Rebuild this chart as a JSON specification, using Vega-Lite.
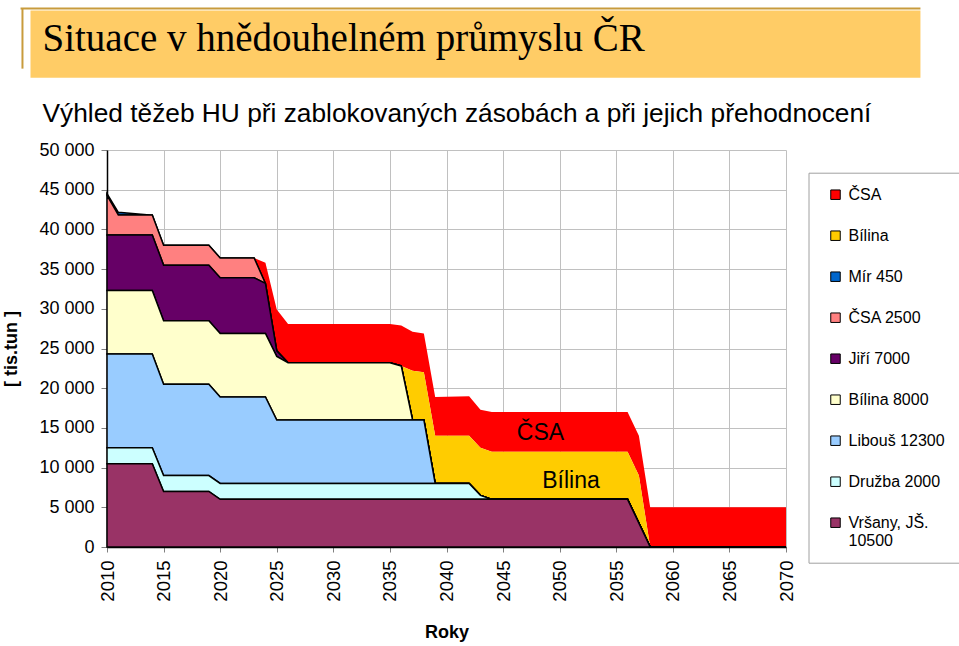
{
  "$schema": "https://vega.github.io/schema/vega-lite/v6.json",
  "width": 679,
  "height": 397,
  "padding": {"left": 2, "top": 7, "right": 0, "bottom": 0},
  "autosize": {"type": "pad"},
  "background": "white",
  "config": {
    "font": "Liberation Sans",
    "view": {"stroke": null},
    "locale": {"number": {"decimal": ",", "thousands": " ", "grouping": [3], "currency": ["", ""]}}
  },
  "title": {
    "text": "Situace v hnědouhelném průmyslu ČR",
    "subtitle": "Výhled těžeb HU při zablokovaných zásobách a při jejich přehodnocení",
    "anchor": "start",
    "frame": "group",
    "dx": -64.5,
    "offset": -120,
    "font": "Liberation Serif",
    "fontSize": 39,
    "fontWeight": "normal",
    "color": "black",
    "subtitleFont": "Liberation Sans",
    "subtitleFontSize": 26.3,
    "subtitleColor": "black",
    "subtitlePadding": 42.5
  },
  "layer": [
    {
      "data": {"values": [
        {"year":2010,"series":"ČSA","value":0},{"year":2010,"series":"Bílina","value":0},{"year":2010,"series":"Mír 450","value":200},{"year":2010,"series":"ČSA 2500","value":5000},{"year":2010,"series":"Jiří 7000","value":7000},{"year":2010,"series":"Bílina 8000","value":8000},{"year":2010,"series":"Libouš 12300","value":11800},{"year":2010,"series":"Družba 2000","value":2000},{"year":2010,"series":"Vršany, JŠ. 10500","value":10500},
        {"year":2011,"series":"ČSA","value":0},{"year":2011,"series":"Bílina","value":0},{"year":2011,"series":"Mír 450","value":350},{"year":2011,"series":"ČSA 2500","value":2500},{"year":2011,"series":"Jiří 7000","value":7000},{"year":2011,"series":"Bílina 8000","value":8000},{"year":2011,"series":"Libouš 12300","value":11800},{"year":2011,"series":"Družba 2000","value":2000},{"year":2011,"series":"Vršany, JŠ. 10500","value":10500},
        {"year":2012,"series":"ČSA","value":0},{"year":2012,"series":"Bílina","value":0},{"year":2012,"series":"Mír 450","value":230},{"year":2012,"series":"ČSA 2500","value":2500},{"year":2012,"series":"Jiří 7000","value":7000},{"year":2012,"series":"Bílina 8000","value":8000},{"year":2012,"series":"Libouš 12300","value":11800},{"year":2012,"series":"Družba 2000","value":2000},{"year":2012,"series":"Vršany, JŠ. 10500","value":10500},
        {"year":2013,"series":"ČSA","value":0},{"year":2013,"series":"Bílina","value":0},{"year":2013,"series":"Mír 450","value":120},{"year":2013,"series":"ČSA 2500","value":2500},{"year":2013,"series":"Jiří 7000","value":7000},{"year":2013,"series":"Bílina 8000","value":8000},{"year":2013,"series":"Libouš 12300","value":11800},{"year":2013,"series":"Družba 2000","value":2000},{"year":2013,"series":"Vršany, JŠ. 10500","value":10500},
        {"year":2014,"series":"ČSA","value":0},{"year":2014,"series":"Bílina","value":0},{"year":2014,"series":"Mír 450","value":0},{"year":2014,"series":"ČSA 2500","value":2500},{"year":2014,"series":"Jiří 7000","value":7000},{"year":2014,"series":"Bílina 8000","value":8000},{"year":2014,"series":"Libouš 12300","value":11800},{"year":2014,"series":"Družba 2000","value":2000},{"year":2014,"series":"Vršany, JŠ. 10500","value":10500},
        {"year":2015,"series":"ČSA","value":0},{"year":2015,"series":"Bílina","value":0},{"year":2015,"series":"Mír 450","value":0},{"year":2015,"series":"ČSA 2500","value":2500},{"year":2015,"series":"Jiří 7000","value":7000},{"year":2015,"series":"Bílina 8000","value":8000},{"year":2015,"series":"Libouš 12300","value":11500},{"year":2015,"series":"Družba 2000","value":2000},{"year":2015,"series":"Vršany, JŠ. 10500","value":7000},
        {"year":2019,"series":"ČSA","value":0},{"year":2019,"series":"Bílina","value":0},{"year":2019,"series":"Mír 450","value":0},{"year":2019,"series":"ČSA 2500","value":2500},{"year":2019,"series":"Jiří 7000","value":7000},{"year":2019,"series":"Bílina 8000","value":8000},{"year":2019,"series":"Libouš 12300","value":11500},{"year":2019,"series":"Družba 2000","value":2000},{"year":2019,"series":"Vršany, JŠ. 10500","value":7000},
        {"year":2020,"series":"ČSA","value":0},{"year":2020,"series":"Bílina","value":0},{"year":2020,"series":"Mír 450","value":0},{"year":2020,"series":"ČSA 2500","value":2500},{"year":2020,"series":"Jiří 7000","value":7000},{"year":2020,"series":"Bílina 8000","value":8000},{"year":2020,"series":"Libouš 12300","value":10900},{"year":2020,"series":"Družba 2000","value":2000},{"year":2020,"series":"Vršany, JŠ. 10500","value":6000},
        {"year":2023,"series":"ČSA","value":0},{"year":2023,"series":"Bílina","value":0},{"year":2023,"series":"Mír 450","value":0},{"year":2023,"series":"ČSA 2500","value":2500},{"year":2023,"series":"Jiří 7000","value":7000},{"year":2023,"series":"Bílina 8000","value":8000},{"year":2023,"series":"Libouš 12300","value":10900},{"year":2023,"series":"Družba 2000","value":2000},{"year":2023,"series":"Vršany, JŠ. 10500","value":6000},
        {"year":2024,"series":"ČSA","value":2600},{"year":2024,"series":"Bílina","value":0},{"year":2024,"series":"Mír 450","value":0},{"year":2024,"series":"ČSA 2500","value":0},{"year":2024,"series":"Jiří 7000","value":6300},{"year":2024,"series":"Bílina 8000","value":8000},{"year":2024,"series":"Libouš 12300","value":10900},{"year":2024,"series":"Družba 2000","value":2000},{"year":2024,"series":"Vršany, JŠ. 10500","value":6000},
        {"year":2025,"series":"ČSA","value":5200},{"year":2025,"series":"Bílina","value":0},{"year":2025,"series":"Mír 450","value":0},{"year":2025,"series":"ČSA 2500","value":0},{"year":2025,"series":"Jiří 7000","value":700},{"year":2025,"series":"Bílina 8000","value":8000},{"year":2025,"series":"Libouš 12300","value":8000},{"year":2025,"series":"Družba 2000","value":2000},{"year":2025,"series":"Vršany, JŠ. 10500","value":6000},
        {"year":2026,"series":"ČSA","value":4900},{"year":2026,"series":"Bílina","value":0},{"year":2026,"series":"Mír 450","value":0},{"year":2026,"series":"ČSA 2500","value":0},{"year":2026,"series":"Jiří 7000","value":0},{"year":2026,"series":"Bílina 8000","value":7200},{"year":2026,"series":"Libouš 12300","value":8000},{"year":2026,"series":"Družba 2000","value":2000},{"year":2026,"series":"Vršany, JŠ. 10500","value":6000},
        {"year":2035,"series":"ČSA","value":4900},{"year":2035,"series":"Bílina","value":0},{"year":2035,"series":"Mír 450","value":0},{"year":2035,"series":"ČSA 2500","value":0},{"year":2035,"series":"Jiří 7000","value":0},{"year":2035,"series":"Bílina 8000","value":7200},{"year":2035,"series":"Libouš 12300","value":8000},{"year":2035,"series":"Družba 2000","value":2000},{"year":2035,"series":"Vršany, JŠ. 10500","value":6000},
        {"year":2036,"series":"ČSA","value":5100},{"year":2036,"series":"Bílina","value":0},{"year":2036,"series":"Mír 450","value":0},{"year":2036,"series":"ČSA 2500","value":0},{"year":2036,"series":"Jiří 7000","value":0},{"year":2036,"series":"Bílina 8000","value":6800},{"year":2036,"series":"Libouš 12300","value":8000},{"year":2036,"series":"Družba 2000","value":2000},{"year":2036,"series":"Vršany, JŠ. 10500","value":6000},
        {"year":2037,"series":"ČSA","value":4900},{"year":2037,"series":"Bílina","value":6200},{"year":2037,"series":"Mír 450","value":0},{"year":2037,"series":"ČSA 2500","value":0},{"year":2037,"series":"Jiří 7000","value":0},{"year":2037,"series":"Bílina 8000","value":0},{"year":2037,"series":"Libouš 12300","value":8000},{"year":2037,"series":"Družba 2000","value":2000},{"year":2037,"series":"Vršany, JŠ. 10500","value":6000},
        {"year":2038,"series":"ČSA","value":4900},{"year":2038,"series":"Bílina","value":6000},{"year":2038,"series":"Mír 450","value":0},{"year":2038,"series":"ČSA 2500","value":0},{"year":2038,"series":"Jiří 7000","value":0},{"year":2038,"series":"Bílina 8000","value":0},{"year":2038,"series":"Libouš 12300","value":8000},{"year":2038,"series":"Družba 2000","value":2000},{"year":2038,"series":"Vršany, JŠ. 10500","value":6000},
        {"year":2039,"series":"ČSA","value":4900},{"year":2039,"series":"Bílina","value":6000},{"year":2039,"series":"Mír 450","value":0},{"year":2039,"series":"ČSA 2500","value":0},{"year":2039,"series":"Jiří 7000","value":0},{"year":2039,"series":"Bílina 8000","value":0},{"year":2039,"series":"Libouš 12300","value":0},{"year":2039,"series":"Družba 2000","value":2000},{"year":2039,"series":"Vršany, JŠ. 10500","value":6000},
        {"year":2042,"series":"ČSA","value":5000},{"year":2042,"series":"Bílina","value":6000},{"year":2042,"series":"Mír 450","value":0},{"year":2042,"series":"ČSA 2500","value":0},{"year":2042,"series":"Jiří 7000","value":0},{"year":2042,"series":"Bílina 8000","value":0},{"year":2042,"series":"Libouš 12300","value":0},{"year":2042,"series":"Družba 2000","value":2000},{"year":2042,"series":"Vršany, JŠ. 10500","value":6000},
        {"year":2043,"series":"ČSA","value":4800},{"year":2043,"series":"Bílina","value":6000},{"year":2043,"series":"Mír 450","value":0},{"year":2043,"series":"ČSA 2500","value":0},{"year":2043,"series":"Jiří 7000","value":0},{"year":2043,"series":"Bílina 8000","value":0},{"year":2043,"series":"Libouš 12300","value":0},{"year":2043,"series":"Družba 2000","value":500},{"year":2043,"series":"Vršany, JŠ. 10500","value":6000},
        {"year":2044,"series":"ČSA","value":5000},{"year":2044,"series":"Bílina","value":6000},{"year":2044,"series":"Mír 450","value":0},{"year":2044,"series":"ČSA 2500","value":0},{"year":2044,"series":"Jiří 7000","value":0},{"year":2044,"series":"Bílina 8000","value":0},{"year":2044,"series":"Libouš 12300","value":0},{"year":2044,"series":"Družba 2000","value":0},{"year":2044,"series":"Vršany, JŠ. 10500","value":6000},
        {"year":2056,"series":"ČSA","value":5000},{"year":2056,"series":"Bílina","value":6000},{"year":2056,"series":"Mír 450","value":0},{"year":2056,"series":"ČSA 2500","value":0},{"year":2056,"series":"Jiří 7000","value":0},{"year":2056,"series":"Bílina 8000","value":0},{"year":2056,"series":"Libouš 12300","value":0},{"year":2056,"series":"Družba 2000","value":0},{"year":2056,"series":"Vršany, JŠ. 10500","value":6000},
        {"year":2057,"series":"ČSA","value":5000},{"year":2057,"series":"Bílina","value":6000},{"year":2057,"series":"Mír 450","value":0},{"year":2057,"series":"ČSA 2500","value":0},{"year":2057,"series":"Jiří 7000","value":0},{"year":2057,"series":"Bílina 8000","value":0},{"year":2057,"series":"Libouš 12300","value":0},{"year":2057,"series":"Družba 2000","value":0},{"year":2057,"series":"Vršany, JŠ. 10500","value":3000},
        {"year":2058,"series":"ČSA","value":5000},{"year":2058,"series":"Bílina","value":0},{"year":2058,"series":"Mír 450","value":0},{"year":2058,"series":"ČSA 2500","value":0},{"year":2058,"series":"Jiří 7000","value":0},{"year":2058,"series":"Bílina 8000","value":0},{"year":2058,"series":"Libouš 12300","value":0},{"year":2058,"series":"Družba 2000","value":0},{"year":2058,"series":"Vršany, JŠ. 10500","value":0},
        {"year":2070,"series":"ČSA","value":5000},{"year":2070,"series":"Bílina","value":0},{"year":2070,"series":"Mír 450","value":0},{"year":2070,"series":"ČSA 2500","value":0},{"year":2070,"series":"Jiří 7000","value":0},{"year":2070,"series":"Bílina 8000","value":0},{"year":2070,"series":"Libouš 12300","value":0},{"year":2070,"series":"Družba 2000","value":0},{"year":2070,"series":"Vršany, JŠ. 10500","value":0}
      ]},
      "transform": [
        {"calculate": "indexof(['ČSA','Bílina','Mír 450','ČSA 2500','Jiří 7000','Bílina 8000','Libouš 12300','Družba 2000','Vršany, JŠ. 10500'], datum.series)", "as": "ord"}
      ],
      "mark": {"type": "area", "stroke": "black", "strokeWidth": 1.5, "opacity": 1, "interpolate": "linear"},
      "encoding": {
        "x": {
          "field": "year", "type": "quantitative",
          "scale": {"domain": [2010, 2070], "nice": false, "zero": false},
          "axis": {
            "values": [2010, 2015, 2020, 2025, 2030, 2035, 2040, 2045, 2050, 2055, 2060, 2065, 2070],
            "tickCount": 30,
            "format": "d", "labelAngle": -90, "labelFontSize": 18.5, "labelColor": "black",
            "labelPadding": 8, "labelFlush": false, "labelOverlap": false,
            "tickSize": 5, "tickColor": "#808080", "domainColor": "black", "domainWidth": 1.5,
            "grid": true, "gridColor": "#C0C0C0", "gridWidth": 1,
            "title": "Roky", "titleFontSize": 18, "titleFontWeight": "bold", "titleColor": "black", "titlePadding": 22
          }
        },
        "y": {
          "field": "value", "type": "quantitative", "stack": "zero",
          "scale": {"domain": [0, 50000], "nice": false},
          "axis": {
            "values": [0, 5000, 10000, 15000, 20000, 25000, 30000, 35000, 40000, 45000, 50000],
            "tickCount": 30,
            "format": ",d",
            "labelFontSize": 18, "labelColor": "black", "labelPadding": 7,
            "labelOverlap": false, "labelFlush": false,
            "tickSize": 6, "tickColor": "#808080", "domainColor": "black", "domainWidth": 1.5,
            "grid": true, "gridColor": "#C0C0C0", "gridWidth": 1,
            "title": "[ tis.tun ]", "titleFontSize": 18, "titleFontWeight": "bold", "titleColor": "black", "titlePadding": 18.5
          }
        },
        "color": {
          "field": "series", "type": "nominal",
          "scale": {
            "domain": ["ČSA", "Bílina", "Mír 450", "ČSA 2500", "Jiří 7000", "Bílina 8000", "Libouš 12300", "Družba 2000", "Vršany, JŠ. 10500"],
            "range": ["#FF0000", "#FFCC00", "#0066CC", "#FF8080", "#660066", "#FFFFCC", "#99CCFF", "#CCFFFF", "#993366"]
          },
          "legend": {
            "orient": "none", "legendX": 701.5, "legendY": 22.7, "title": null,
            "symbolType": "square", "symbolSize": 90, "symbolStrokeColor": "black", "symbolStrokeWidth": 1,
            "labelFontSize": 16, "labelColor": "black", "labelOffset": 5, "symbolOffset": 5,
            "rowPadding": 25, "padding": 14, "strokeColor": "#A0A0A0",
            "labelExpr": "datum.label === 'Vršany, JŠ. 10500' ? ['Vršany, JŠ.', '10500'] : datum.label"
          }
        },
        "order": {"field": "ord", "type": "quantitative", "sort": "descending"},
        "strokeOpacity": {
          "condition": {"test": "datum.series === 'ČSA' || datum.series === 'Bílina'", "value": 0},
          "value": 1
        }
      }
    },
    {
      "data": {"values": [{}]},
      "mark": {"type": "rect", "fill": "#FFCC66"},
      "encoding": {
        "x": {"datum": 2003.24, "type": "quantitative"},
        "x2": {"datum": 2081.88},
        "y": {"datum": 67557, "type": "quantitative"},
        "y2": {"datum": 59113}
      }
    },
    {
      "data": {"values": [{}]},
      "mark": {"type": "rule", "stroke": "#C89B3C", "strokeWidth": 2},
      "encoding": {
        "x": {"datum": 2002.36, "type": "quantitative"},
        "x2": {"datum": 2081.88},
        "y": {"datum": 67810, "type": "quantitative"}
      }
    },
    {
      "data": {"values": [{}]},
      "mark": {"type": "rule", "stroke": "#C89B3C", "strokeWidth": 2},
      "encoding": {
        "x": {"datum": 2002.53, "type": "quantitative"},
        "y": {"datum": 67810, "type": "quantitative"},
        "y2": {"datum": 60247}
      }
    },
    {
      "data": {"values": [
        {"year": 2048.3, "value": 14400, "label": "ČSA"},
        {"year": 2051.0, "value": 8300, "label": "Bílina"}
      ]},
      "mark": {"type": "text", "fontSize": 23, "color": "black", "align": "center", "baseline": "middle"},
      "encoding": {
        "x": {"field": "year", "type": "quantitative"},
        "y": {"field": "value", "type": "quantitative"},
        "text": {"field": "label"}
      }
    }
  ]
}
